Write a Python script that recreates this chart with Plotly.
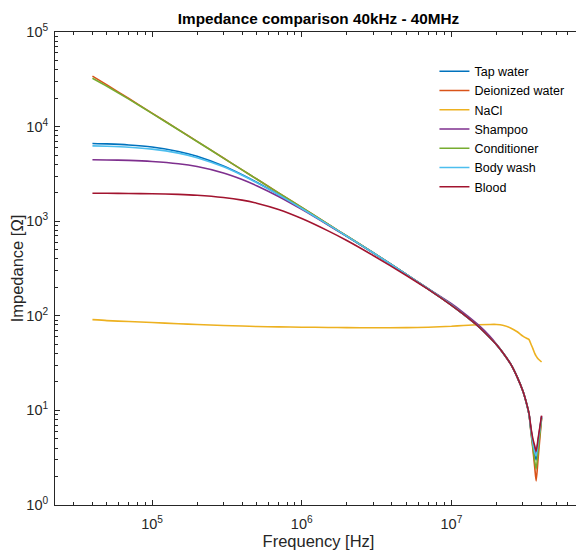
import plotly.graph_objects as go

# Frequency points (MHz)
freq_mhz = [0.04, 0.05, 0.07, 0.1, 0.15, 0.2, 0.3, 0.4, 0.5, 0.7, 1, 1.5, 2, 3, 5, 7,
            10, 12, 15, 18, 20, 22, 25, 27.5, 30, 32, 33, 34, 35, 36, 36.8, 38, 40]

# Impedance magnitudes (Ohm)
tap_water = [6630, 6560, 6390, 6080, 5460, 4850, 3830, 3100, 2580, 1910, 1367, 922, 694, 464, 274, 192,
             130, 104, 78, 59, 49.5, 41, 30.5, 22.5, 16, 11.2, 9.0, 6.1, 4.4, 3.4, 3.0, 4.48, 8.5]
deionized_water = [34200, 27600, 19800, 13900, 9300, 6980, 4653, 3490, 2792, 1994, 1396, 931, 698, 465, 274, 192,
                   130, 104, 78, 59, 49.5, 41, 30.5, 22.5, 16, 11.2, 9.0, 5.8, 3.9, 2.5, 1.8, 3.25, 8.3]
nacl = [91, 89, 87, 85, 82.5, 81, 79, 78, 77, 76.3, 75.8, 75.3, 75, 74.8, 75, 75.8,
        77.5, 79, 80.5, 81, 81, 79.5, 74, 67.8, 61, 57.5, 56, 50, 45, 40, 37.5, 35, 32.5]
shampoo = [4460, 4440, 4390, 4280, 4050, 3780, 3235, 2757, 2372, 1823, 1333, 911, 690, 463, 274, 193,
           134, 108, 81, 61, 50, 41, 30.5, 22.5, 16, 11.3, 9.1, 6.3, 4.7, 3.8, 3.4, 4.89, 8.7]
conditioner = [32500, 26700, 19500, 13800, 9260, 6960, 4650, 3487, 2790, 1994, 1396, 931, 698, 465, 274, 192,
               130, 104, 78, 59, 49.5, 41, 30.5, 22.5, 16, 11.2, 9.0, 5.9, 4.1, 2.9, 2.4, 3.87, 8.3]
body_wash = [6250, 6190, 6050, 5780, 5245, 4697, 3753, 3059, 2556, 1903, 1363, 921, 694, 464, 274, 192,
             130, 104, 78, 59, 49.5, 41, 30.5, 22.5, 16, 11.2, 9.0, 6.1, 4.5, 3.6, 3.3, 4.75, 8.5]
blood = [1975, 1972, 1965, 1950, 1920, 1880, 1780, 1670, 1550, 1330, 1067, 790, 625, 434, 267, 190,
         129, 104, 78, 59, 49.5, 41, 30.5, 22.5, 16, 11.3, 9.2, 6.5, 5.0, 4.2, 3.7, 5.17, 8.8]

series_names = ["Tap water", "Deionized water", "NaCl", "Shampoo", "Conditioner", "Body wash", "Blood"]
series_values = [tap_water, deionized_water, nacl, shampoo, conditioner, body_wash, blood]
series_colors = ["#0072BD", "#D95319", "#EDB120", "#7E2F8E", "#77AC30", "#4DBEEE", "#A2142F"]

x_major = [1e5, 1e6, 1e7]
x_major_text = ["10<sup>5</sup>", "10<sup>6</sup>", "10<sup>7</sup>"]
y_major = [1, 10, 100, 1e3, 1e4, 1e5]
y_major_text = ["10<sup>0</sup>", "10<sup>1</sup>", "10<sup>2</sup>", "10<sup>3</sup>", "10<sup>4</sup>", "10<sup>5</sup>"]

freq_hz = [f * 1e6 for f in freq_mhz]

fig = go.Figure()
for name, vals, color in zip(series_names, series_values, series_colors):
    fig.add_trace(go.Scatter(x=freq_hz, y=vals, mode="lines", name=name,
                             line=dict(color=color, width=1.6, shape="spline", smoothing=0.6)))

x_minor = [m * 10 ** e for e in range(4, 8) for m in range(2, 10)]
y_minor = [m * 10 ** e for e in range(0, 5) for m in range(2, 10)]

axis_color = "#262626"
fig.update_xaxes(type="log", range=[4.352, 7.872], tickmode="array", tickvals=x_major,
                 ticktext=x_major_text, ticks="inside", ticklen=5, tickcolor=axis_color,
                 showline=True, linecolor=axis_color, linewidth=1, mirror="ticks",
                 showgrid=False, zeroline=False, ticklabelstandoff=6, automargin=False,
                 tickfont=dict(size=14.5, color=axis_color),
                 minor=dict(tickmode="array", tickvals=x_minor, ticks="inside", ticklen=3,
                            tickcolor=axis_color, showgrid=False),
                 title=dict(text="Frequency [Hz]", font=dict(size=16.5, color=axis_color)))
fig.update_yaxes(type="log", range=[0, 5], tickmode="array", tickvals=y_major,
                 ticktext=y_major_text, ticks="inside", ticklen=5, tickcolor=axis_color,
                 showline=True, linecolor=axis_color, linewidth=1, mirror="ticks",
                 showgrid=False, zeroline=False, ticklabelstandoff=3, automargin=False,
                 tickfont=dict(size=14.5, color=axis_color),
                 minor=dict(tickmode="array", tickvals=y_minor, ticks="inside", ticklen=3,
                            tickcolor=axis_color, showgrid=False),
                 title=dict(text="Impedance [Ω]", font=dict(size=16.5, color=axis_color)))

# The page body adds an 8 px margin, so the figure is sized to fit the 584x550 window.
fig.update_layout(
    width=576, height=542,
    margin=dict(l=47, r=2, t=24, b=45),
    paper_bgcolor="white", plot_bgcolor="white",
    font=dict(family="Liberation Sans, Arial, Helvetica, sans-serif", color=axis_color),
    title=dict(text="<b>Impedance comparison 40kHz - 40MHz</b>", x=0.5, xref="paper", xanchor="center",
               y=1 - 11 / 542, yref="container", yanchor="middle",
               font=dict(size=15.3, color="#000000")),
    legend=dict(x=0.72, y=0.948, xanchor="left", yanchor="top", bgcolor="rgba(255,255,255,0)",
                font=dict(size=12.5, color="#000000"), borderwidth=0, tracegroupgap=0),
    showlegend=True,
)

fig.write_html("out.html")
